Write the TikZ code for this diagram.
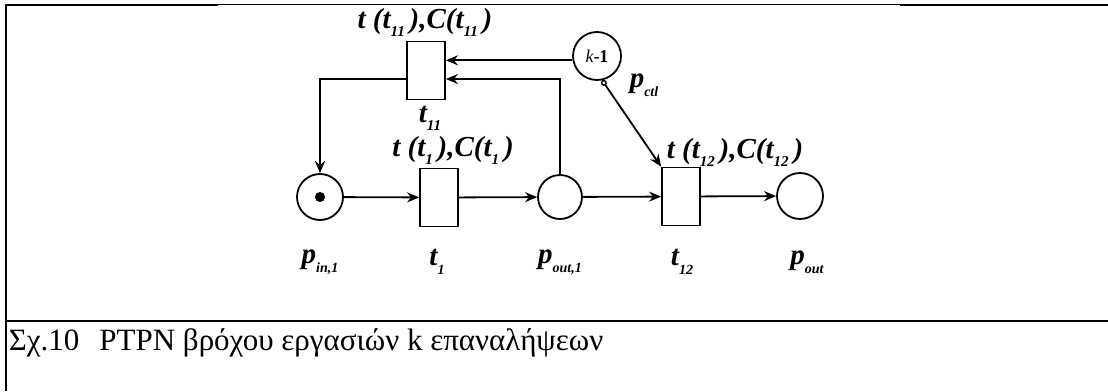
\documentclass[tikz,border=0pt]{standalone}
\usepackage{fontspec}
\setmainfont{Liberation Serif}
\usetikzlibrary{arrows.meta}
\newcommand\lblfont{\fontsize{29}{32}\selectfont\bfseries\itshape}
\newcommand\sbs[1]{\raisebox{-0.28em}{\fontsize{15}{15}\selectfont #1}}
\newcommand\sbsb[1]{\raisebox{-0.3em}{\fontsize{14}{14}\selectfont #1}}
\begin{document}
\begin{tikzpicture}[x=1pt,y=-1pt,line width=1.8pt,
  place/.style={circle,draw,minimum size=46pt,inner sep=0pt},
  trans/.style={rectangle,draw,minimum width=38pt,minimum height=58pt,inner sep=0pt},
  arc/.style={-{Stealth[length=12pt,width=10pt]}},
  inhib/.style={{Circle[open,length=6pt,width=6pt,line width=1.4pt]}-{Stealth[length=12pt,width=10pt]}},
  lbl/.style={font=\lblfont,inner sep=0pt},
  frame/.style={line width=2pt}]
\useasboundingbox (0,0) rectangle (1108,391);
% frame
\draw[frame] (6,5) -- (218,5);
\draw[line width=1pt] (218,4.5) -- (900,4.5);
\draw[frame] (900,5) -- (1108,5);
\draw[frame] (6,4) -- (6,391);
\draw[line width=2.7pt] (5,321) -- (1108,321);
% places and transitions
\node[place] (pin) at (320,197) {};
\node[circle,fill,minimum size=10pt,inner sep=0pt] (tok) at (pin) {};
\node[trans] (t1) at (439,197.5) {};
\node[place,minimum size=44pt] (pout1) at (560,197) {};
\node[trans] (t12) at (681,196.5) {};
\node[place] (pout) at (800,196) {};
\node[trans] (t11) at (426,70.5) {};
\node[place,minimum size=48pt] (pctl) at (597,56) {\fontsize{18}{20}\selectfont\itshape k\upshape\bfseries -1};
% arcs
\draw[arc] (pin) -- (t1);
\draw[arc] (t1) -- (pout1);
\draw[arc] (pout1) -- (t12);
\draw[arc] (t12) -- (pout);
\draw[arc] (pctl.190) -- (pctl.190 -| t11.east);
\draw[arc] (pout1.north) |- ([yshift=-8.5pt]t11.east);
\draw[arc] ([yshift=-8.5pt]t11.west) -| (pin.north);
\draw[inhib] (pctl.282) -- (t12.north west);
% labels
\node[lbl] (l11) at (425,22) {t (t\sbs{11}\,),C(t\sbs{11}\,)};
\node[lbl] (lt11) at (430,118) {t\sbs{11}};
\node[lbl] (l1) at (453,150) {t (t\sbs{1}\,),C(t\sbs{1}\,)};
\node[lbl] (l12) at (735,152) {t (t\sbs{12}\,),C(t\sbs{12}\,)};
\node[lbl] (lctl) at (644,85) {p\sbsb{ctl}};
\node[lbl] (lpin) at (320,262) {p\sbsb{in,1}};
\node[lbl] (lt1) at (437,262) {t\sbsb{1}};
\node[lbl] (lpout1) at (560,262) {p\sbsb{out,1}};
\node[lbl] (lt12) at (682,262) {t\sbsb{12}};
\node[lbl] (lpout) at (807,262) {p\sbsb{out}};
% caption
\node[anchor=base west,inner sep=0pt,font=\fontsize{31}{36}\selectfont] (cap) at (8,350) {Σχ.10\hspace{20pt}PTPN βρόχου εργασιών k επαναλήψεων};
\end{tikzpicture}
\end{document}
